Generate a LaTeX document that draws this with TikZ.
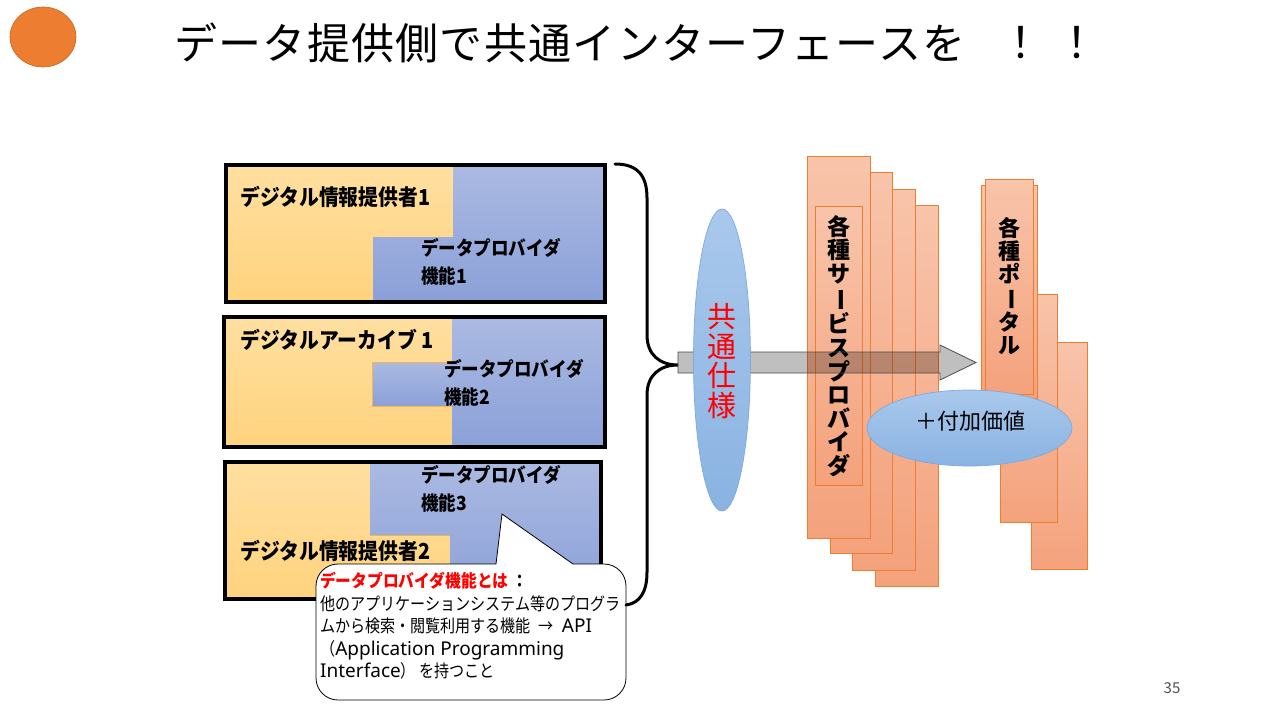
\documentclass[tikz,border=0pt]{standalone}
\usepackage{fontspec}
\usepackage{graphicx}
\usetikzlibrary{shapes.geometric}
\newfontfamily\jp{Noto Sans CJK JP}
\newfontfamily\jpt{Noto Sans CJK JP}[LetterSpace=3]
\newfontfamily\jpc{Noto Sans CJK JP}[FakeStretch=0.9]
\newfontfamily\jpn{Noto Sans CJK JP}[FakeStretch=0.86]
\newfontfamily\lat{Noto Sans}
\newcommand\latx[1]{{\lat\fontsize{19}{22.5}\selectfont #1}}
\newcommand\vchoon{\rotatebox[origin=c]{-90}{ー}}
\definecolor{yelA}{HTML}{FFDFA0}
\definecolor{yelB}{HTML}{FFD37E}
\definecolor{yelL}{HTML}{F2B84B}
\definecolor{bluA}{HTML}{ABBAE2}
\definecolor{bluB}{HTML}{8BA0D8}
\definecolor{orA}{HTML}{F8C4AA}
\definecolor{orB}{HTML}{F4A27C}
\definecolor{orL}{HTML}{ED7D31}
\definecolor{ellA}{HTML}{A9C8EC}
\definecolor{ellB}{HTML}{8AB3E2}
\definecolor{ellL}{HTML}{7FA9DA}
\definecolor{dot}{HTML}{ED7D31}
\definecolor{dotL}{HTML}{C9651F}
\definecolor{redT}{HTML}{FF0000}
\definecolor{pgnum}{HTML}{505050}
\begin{document}
\begin{tikzpicture}[x=1pt,y=-1pt,
  yelfill/.style={top color=yelA,bottom color=yelB,draw=yelL,line width=0.6pt},
  blufill/.style={top color=bluA,bottom color=bluB},
  frame/.style={draw=black,line width=4pt},
  orbox/.style={top color=orA,bottom color=orB,draw=orL,line width=0.8pt},
  bell/.style={ellipse,top color=ellA,bottom color=ellB,draw=ellL,line width=0.7pt,inner sep=0pt},
  lbl/.style={font=\jpc\bfseries\fontsize{22}{24}\selectfont,anchor=west,inner sep=0pt},
  prov/.style={font=\jpc\bfseries\fontsize{19.5}{28}\selectfont,anchor=west,align=left,inner sep=0pt},
  vtext/.style={font=\jp\bfseries\fontsize{23}{23.6}\selectfont,align=center,inner sep=0pt},
  ttl/.style={inner sep=0pt,font=\jpt\fontsize{43}{43}\selectfont}
]
\useasboundingbox (0,0) rectangle (1280,720);
\fill[white] (0,0) rectangle (1280,720);

% orange dot and title
\node[ellipse,fill=dot,draw=dotL,line width=0.6pt,minimum width=66pt,minimum height=60pt,inner sep=0pt] (dotmark) at (43,37) {};
\node[ttl,anchor=west] (title) at (174,43) {データ提供側で共通インターフェースを};
\node[ttl] (ex1) at (1021,43) {！};
\node[ttl] (ex2) at (1077,43) {！};

% box 1
\path[yelfill] (226,164) -- (453,164) -- (453,237) -- (373,237) -- (373,303) -- (226,303) -- cycle;
\path[blufill] (453,164) -- (605,164) -- (605,303) -- (373,303) -- (373,237) -- (453,237) -- cycle;
\draw[frame] (226,165) rectangle (605,302);
\node[lbl] (dp1) at (240,197) {デジタル情報提供者1};
\node[prov] (api1) at (421,262) {データプロバイダ\\機能1};

% box 2
\path[yelfill] (224,316) rectangle (452,448);
\path[blufill] (452,316) rectangle (605,448);
\path[blufill,draw=yelL,line width=0.6pt] (452,362) -- (372,362) -- (372,406) -- (452,406);
\fill[bluA!60!bluB] (450,363) rectangle (454,405);
\draw[frame] (224,317) rectangle (605,447);
\node[lbl] (da1) at (240,340) {デジタルアーカイブ 1};
\node[prov] (api2) at (444,383) {データプロバイダ\\機能2};

% box 3
\path[yelfill] (225,461) -- (370,461) -- (370,535) -- (450,535) -- (450,600) -- (225,600) -- cycle;
\path[blufill] (370,461) -- (601,461) -- (601,600) -- (450,600) -- (450,535) -- (370,535) -- cycle;
\draw[frame] (225,462) rectangle (601,599);
\node[prov] (api3) at (421,489) {データプロバイダ\\機能3};
\node[lbl] (dp2) at (240,551) {デジタル情報提供者2};

% callout
\draw[fill=white,line width=0.8pt] (316,620) [rounded corners=22pt]-- (316,564) -- (420,564) [sharp corners]-- (496,564) -- (502,514) -- (573,564) -- (590,564) [rounded corners=22pt]-- (626,564) -- (626,700) -- (316,700) -- cycle;
\node[anchor=north west,align=left,inner sep=0pt,font=\jpn\fontsize{17.5}{22.5}\selectfont] (note) at (320,572)
{{\jpc\bfseries\color{redT}データプロバイダ機能とは}\hspace{4pt}{\bfseries ：}\\
他のアプリケーションシステム等のプログラ\\
ムから検索・閲覧利用する機能\hspace{8pt}→\hspace{8pt}\latx{API}\\
（\latx{Application Programming}\\
\latx{Interface}） を持つこと};

% brace
\draw[line width=3pt,line cap=round] (615,164) .. controls (638,164) and (647,176) .. (647,198) -- (647,335) .. controls (647,355) and (660,365) .. (678,365) .. controls (660,365) and (647,375) .. (647,395) -- (647,572) .. controls (647,592) and (640,603) .. (626,605);

% service provider stack
\path[orbox] (875,205) rectangle (938,586);
\path[orbox] (852,189) rectangle (915,570);
\path[orbox] (830,172) rectangle (892,553);
\path[orbox] (807,156) rectangle (870,538);
\path[orbox] (815,206) rectangle (862,485);
\node[vtext] (svc) at (838.5,346) {各\\種\\サ\\\vchoon\\ビ\\ス\\プ\\ロ\\バ\\イ\\ダ};

% portal stack
\path[orbox] (1031,342) rectangle (1087,569);
\path[orbox] (1000,294) rectangle (1057,522);
\path[orbox] (981,185) rectangle (1037,398);
\path[orbox] (985,179) rectangle (1033,394);
\node[vtext,font=\jp\bfseries\fontsize{22}{23}\selectfont] (portal) at (1009,286) {各\\種\\ポ\\\vchoon\\タ\\ル};

% gray arrow
\draw[fill=black,fill opacity=0.25,draw=black!70,line width=0.8pt] (678,352) -- (940,352) -- (940,345) -- (976,362.5) -- (940,380) -- (940,373) -- (678,373) -- cycle;

% common spec ellipse
\node[bell,minimum width=57pt,minimum height=302pt] (spec) at (722,360) {};
\node[align=center,inner sep=0pt,text=redT,font=\jp\fontsize{29}{29.5}\selectfont] (spectext) at (722,361) {共\\通\\仕\\様};

% added value ellipse
\node[bell,minimum width=205pt,minimum height=76pt] (value) at (969.5,428) {};
\node[inner sep=0pt,font=\jp\fontsize{22}{22}\selectfont] (valuetext) at (970,421) {＋付加価値};

% page number
\node[inner sep=0pt,text=pgnum,font=\jp\fontsize{15}{15}\selectfont] (page) at (1172,688) {35};
\end{tikzpicture}
\end{document}
